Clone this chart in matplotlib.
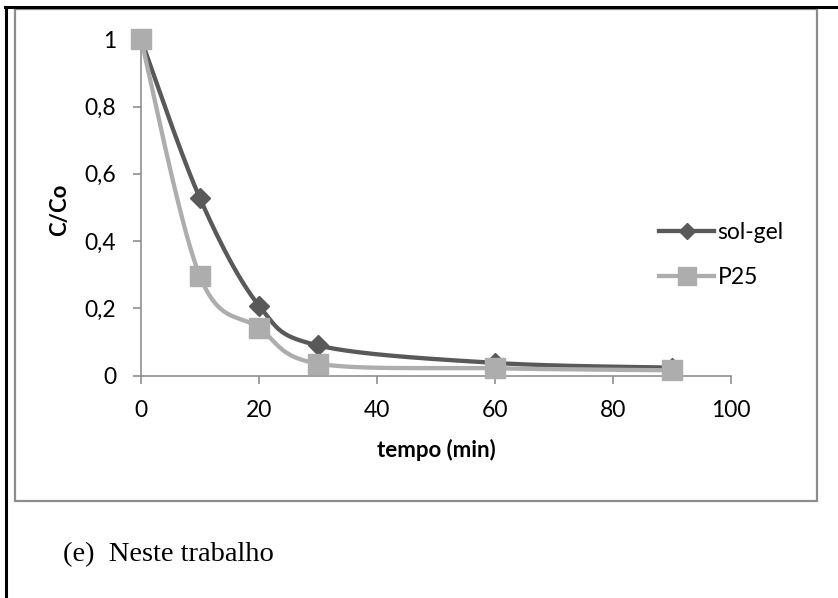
import numpy as np
import matplotlib
matplotlib.use("Agg")
import matplotlib.pyplot as plt
from matplotlib.lines import Line2D
from matplotlib.patches import Rectangle
from matplotlib.ticker import FuncFormatter

# ---- data ----
tempo = [0, 10, 20, 30, 60, 90]
sol_gel = [1.0, 0.527, 0.208, 0.090, 0.038, 0.024]
p25 = [1.0, 0.295, 0.142, 0.036, 0.022, 0.016]
series_names = ["sol-gel", "P25"]
x_ticks = [0, 20, 40, 60, 80, 100]
y_ticks = [0, 0.2, 0.4, 0.6, 0.8, 1.0]
x_label = "tempo (min)"
y_label = "C/Co"
caption = "(e)  Neste trabalho"

W, H = 838, 598
fig = plt.figure(figsize=(W / 100, H / 100), dpi=100)


def fx(px):
    return px / W


def fy(py):
    return 1 - py / H


def smooth(xs, ys, n=40):
    """Catmull-Rom style Bezier smoothing (like spreadsheet smoothed lines)."""
    P = np.column_stack([xs, ys]).astype(float)
    out = []
    for i in range(len(P) - 1):
        p0 = P[i - 1] if i > 0 else P[i]
        p1, p2 = P[i], P[i + 1]
        p3 = P[i + 2] if i + 2 < len(P) else P[i + 1]
        c1 = p1 + (p2 - p0) / 6.0
        c2 = p2 - (p3 - p1) / 6.0
        t = np.linspace(0, 1, n)[:, None]
        seg = ((1 - t) ** 3) * p1 + 3 * ((1 - t) ** 2) * t * c1 + 3 * (1 - t) * t ** 2 * c2 + t ** 3 * p2
        out.append(seg if i == 0 else seg[1:])
    S = np.vstack(out)
    return S[:, 0], S[:, 1]


# chart frame and page borders
fig.add_artist(Rectangle((fx(15), fy(501)), fx(817) - fx(15), fy(9) - fy(501),
                         transform=fig.transFigure, fill=False, edgecolor="#8c8c8c", linewidth=1.6))
fig.add_artist(Line2D([fx(5), 1.0], [fy(7), fy(7)], transform=fig.transFigure, color="black", linewidth=2.2))
fig.add_artist(Line2D([fx(6), fx(6)], [fy(7), 0.0], transform=fig.transFigure, color="black", linewidth=2.2))

ax = fig.add_axes([fx(141), fy(375.7), fx(731) - fx(141), fy(39.2) - fy(375.7)])
ax.set_xlim(0, 100)
ax.set_ylim(0, 1)

dark = "#595959"
light = "#ADADAD"

sx, sy = smooth(tempo, sol_gel)
ax.plot(sx, sy, color=dark, linewidth=3.1, solid_capstyle="round", zorder=3, clip_on=False)
ax.plot(tempo, sol_gel, linestyle="none", marker="D", markersize=10.5, color=dark, zorder=4, clip_on=False)
px_, py_ = smooth(tempo, p25)
ax.plot(px_, py_, color=light, linewidth=3.1, solid_capstyle="round", zorder=5, clip_on=False)
ax.plot(tempo, p25, linestyle="none", marker="s", markersize=14.5, color=light, zorder=6, clip_on=False)

for s in ["top", "right"]:
    ax.spines[s].set_visible(False)
for s in ["left", "bottom"]:
    ax.spines[s].set_color("#868686")
    ax.spines[s].set_linewidth(1.1)

font = "Lato"
ax.set_xticks(x_ticks)
ax.set_yticks(y_ticks)
ax.yaxis.set_major_formatter(FuncFormatter(lambda v, p: ("%g" % v).replace(".", ",")))
ax.tick_params(axis="both", direction="out", length=5.8, width=1.1, color="#868686",
               labelsize=16.5, labelcolor="black")
ax.tick_params(axis="y", pad=12)
ax.tick_params(axis="x", pad=12)
for lab in ax.get_xticklabels() + ax.get_yticklabels():
    lab.set_fontfamily(font)

fig.text(fx(436), fy(450), x_label, ha="center", va="center", fontsize=16, fontweight="bold", family=font)
fig.text(fx(60), fy(210), y_label, ha="center", va="center", rotation=90, fontsize=16,
         fontweight="bold", family=font)

handles = [Line2D([], [], color=dark, linewidth=3.1, marker="D", markersize=8.5),
           Line2D([], [], color=light, linewidth=3.1, marker="s", markersize=13)]
ax.legend(handles, series_names, loc="center left", bbox_to_anchor=(fx(659), fy(255)),
          bbox_transform=fig.transFigure, frameon=False, prop={"family": font, "size": 16.5},
          handlelength=2.4, handletextpad=0.15, labelspacing=1.05, borderaxespad=0, borderpad=0)

fig.text(fx(63), fy(555), caption, ha="left", va="center", fontsize=20.5, family="Liberation Serif")

fig.savefig("out.png", dpi=100)
